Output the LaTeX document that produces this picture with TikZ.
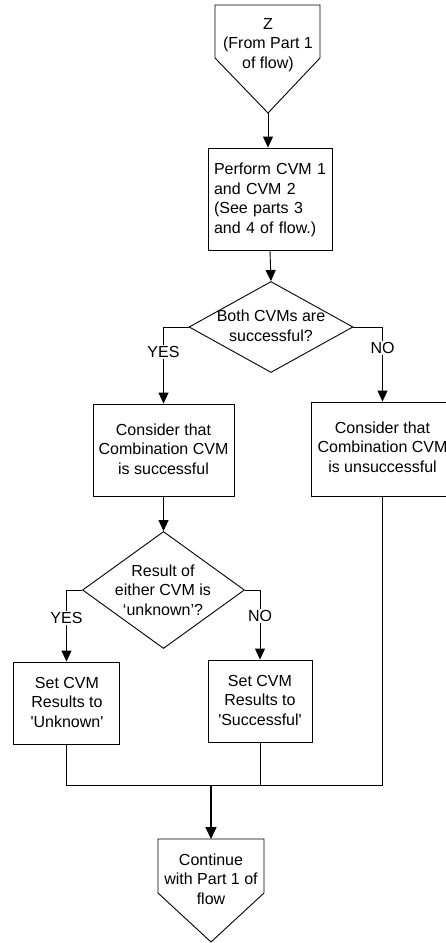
\documentclass[tikz,border=0pt]{standalone}
\usepackage{fontspec}
\setmainfont{Liberation Sans}
\usetikzlibrary{arrows.meta,shapes.geometric}
\tikzset{
  box/.style={draw=black, line width=0.9pt, rectangle, inner sep=0pt, align=center},
  dia/.style={draw=black, line width=0.9pt, diamond, inner sep=0pt},
  txt/.style={inner sep=0pt, align=center, font=\fontsize{16}{19.5}\selectfont},
  lbl/.style={inner sep=1.5pt, fill=white, font=\fontsize{16}{19.5}\selectfont},
  line/.style={draw=black, line width=0.9pt},
  arr/.style={line, -{Triangle[width=10pt,length=11pt]}},
  bigarr/.style={draw=black, line width=1.6pt, -{Triangle[width=11pt,length=12pt]}}
}
\begin{document}
\begin{tikzpicture}[x=1pt,y=-1pt]
\useasboundingbox (0,0) rectangle (446,943);
\clip (0,0) rectangle (446,943);
% top off-page connector
\coordinate (ztl) at (215,5);
\coordinate (ztr) at (320,5);
\coordinate (ztip) at (268,113);
\draw[line] (ztl) -- (ztr) -- (320,58) -- (ztip) -- (215,58) -- cycle;
\node[txt] (ztext) at (268,45) {Z\\(From Part 1\\of flow)};
% perform box
\node[box, minimum width=124pt, minimum height=102pt] (perform) at (270,199) {};
\node[txt, align=left, text width=116pt] (performtext) at (272,200) {Perform CVM 1\\and CVM 2\\(See parts 3\\and 4 of flow.)};
\draw[arr] (ztip) -- (ztip |- perform.north);
% decision 1
\node[dia, minimum width=164pt, minimum height=91pt] (d1) at (271,327) {};
\node[txt] (d1text) at (271,326) {Both CVMs are\\successful?};
\draw[arr] (perform.south) -- (d1.north);
% consider boxes
\node[box, minimum width=141pt, minimum height=92pt] (c1) at (163.5,450) {};
\node[txt] (c1text) at (163.5,449) {Consider that\\Combination CVM\\is successful};
\node[box, minimum width=142pt, minimum height=94pt] (c2) at (382.5,449) {};
\node[txt] (c2text) at (382.5,447) {Consider that\\Combination CVM\\is unsuccessful};
\draw[arr] (d1.west) -| (c1.north);
\draw[arr] (d1.east) -| (c2.north);
\node[lbl] (yes1) at (163.5,352) {YES};
\node[lbl] (no1) at (382.5,348) {NO};
% decision 2
\node[dia, minimum width=162pt, minimum height=117pt] (d2) at (163.5,590) {};
\node[txt] (d2text) at (163,590) {Result of\\either CVM is\\‘unknown’?};
\draw[arr] (c1.south) -- (d2.north);
% result boxes
\node[box, minimum width=106pt, minimum height=82pt] (u) at (66.5,703) {};
\node[txt] (utext) at (67,702) {Set CVM\\Results to\\\textquotesingle Unknown\textquotesingle};
\node[box, minimum width=104pt, minimum height=82pt] (s) at (260,701) {};
\node[txt] (stext) at (260,700) {Set CVM\\Results to\\\textquotesingle Successful\textquotesingle};
\draw[arr] (d2.west) -| (u.north);
\draw[arr] (d2.east) -| (s.north);
\node[lbl] (yes2) at (66.5,618) {YES};
\node[lbl] (no2) at (260,616) {NO};
% merge
\coordinate (m) at (211,785);
\draw[line] (u.south) -- (u.south |- m) -- (c2.south |- m) -- (c2.south);
\draw[line] (s.south) -- (s.south |- m);
% bottom off-page connector
\coordinate (btl) at (158,839);
\coordinate (btip) at (211,942);
\draw[line] (btl) -- (264,839) -- (264,893) -- (btip) -- (158,893) -- cycle;
\node[txt] (btext) at (211,879) {Continue\\with Part 1 of\\flow};
\draw[bigarr] (m) -- (m |- btl);
\end{tikzpicture}
\end{document}
